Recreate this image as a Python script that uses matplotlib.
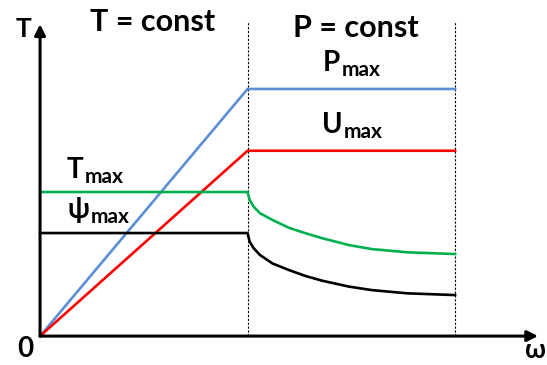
import matplotlib
matplotlib.use('Agg')
import matplotlib.pyplot as plt
from matplotlib.transforms import offset_copy

# -------------------- Data --------------------
# speed in units of base speed, torque-ish quantities normalised to P_max
omega_lin = [0.0, 1.0, 2.0]
p_max = [0.0, 1.0, 1.0]
u_max = [0.0, 0.75, 0.75]

omega_curve = [0.0, 1.0, 1.01, 1.03, 1.06, 1.12, 1.2, 1.28, 1.36, 1.49, 1.6, 1.77, 2.0]
t_max = [0.583, 0.583, 0.551, 0.523, 0.497, 0.470, 0.438, 0.416, 0.396, 0.368, 0.352, 0.339, 0.332]
psi_max = [0.417, 0.417, 0.382, 0.355, 0.328, 0.294, 0.267, 0.243, 0.224, 0.200, 0.186, 0.173, 0.166]

region_edges = [1.0, 2.0]
# ----------------------------------------------

FONT = ['Lato', 'DejaVu Sans']
BLUE = '#5B8ED6'
RED = '#FF0000'
GREEN = '#00B050'

fig = plt.figure(figsize=(5.47, 3.65), dpi=100)
ax = fig.add_axes([0, 0, 1, 1])
ax.set_xlim(-0.193, 2.443)
ax.set_ylim(-0.117, 1.360)
ax.axis('off')

# axes with arrows
arrow = dict(arrowstyle='-|>', lw=2.2, color='black', mutation_scale=16,
             shrinkA=0, shrinkB=0)
ax.annotate('', xy=(2.40, 0), xytext=(0, 0), arrowprops=arrow)
ax.annotate('', xy=(0, 1.262), xytext=(0, 0), arrowprops=arrow)

# region boundaries
for x in region_edges:
    ax.plot([x, x], [0, 1.271], color='black', lw=0.8, ls=(0, (2, 1.5)))

ax.plot(omega_lin, p_max, color=BLUE, lw=1.9)
ax.plot(omega_lin, u_max, color=RED, lw=1.9)
ax.plot(omega_curve, t_max, color=GREEN, lw=1.9, solid_joinstyle='round')
ax.plot(omega_curve, psi_max, color='black', lw=1.9, solid_joinstyle='round')

txt = dict(family=FONT, weight='bold', color='black', va='baseline', ha='left')
ax.text(-0.120, 1.211, 'T', fontsize=19, **txt)
ax.text(0.241, 1.235, 'T = const', fontsize=22, **txt)
ax.text(1.219, 1.211, 'P = const', fontsize=22, **txt)
ax.text(-0.111, -0.085, '0', fontsize=20, **txt)
ax.text(2.338, -0.089, 'ω', fontsize=19, **txt)

fig.canvas.draw()
renderer = fig.canvas.get_renderer()


def label_with_sub(x, y, main, sub):
    t = ax.text(x, y, main, fontsize=20, **txt)
    w = t.get_window_extent(renderer).width
    tr = offset_copy(ax.transData, fig=fig, x=w * 72 / fig.dpi + 1, y=-3.5, units='points')
    ax.text(x, y, sub, fontsize=15, transform=tr, **txt)


label_with_sub(1.364, 1.073, 'P', 'max')
label_with_sub(1.359, 0.822, 'U', 'max')
label_with_sub(0.130, 0.640, 'T', 'max')
label_with_sub(0.130, 0.478, 'ψ', 'max')

fig.savefig('out.png', dpi=100)
